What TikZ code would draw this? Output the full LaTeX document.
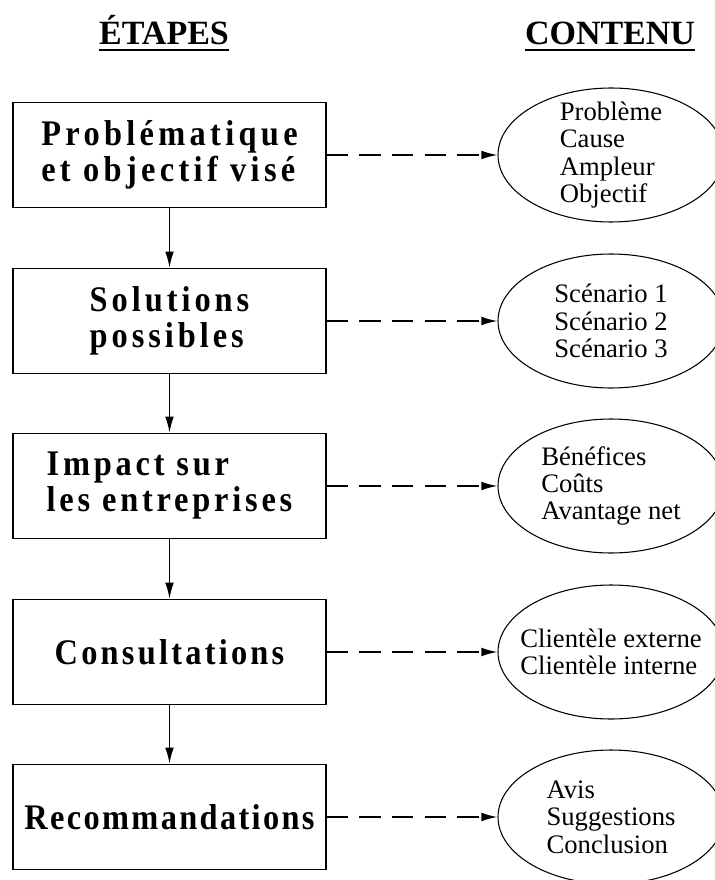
\documentclass[tikz,border=0pt]{standalone}
\usepackage{fontspec}
\setmainfont{Liberation Serif}
\newfontfamily\etapefont[FakeStretch=0.9]{Liberation Serif}
\usetikzlibrary{arrows.meta,shapes.geometric}

\tikzset{
  etape/.style={draw, line width=1.2pt, minimum width=234.75pt, minimum height=78.75pt,
    align=left, font=\etapefont\bfseries\fontsize{27pt}{27pt}\selectfont\addfontfeatures{LetterSpace=#1}},
  etape/.default=11,
  contenu/.style={draw, ellipse, line width=0.8pt, minimum width=169.5pt,
    minimum height=100.5pt, inner sep=0pt},
  liste/.style={align=left, font=\fontsize{20pt}{20.5pt}\selectfont},
  titre/.style={font=\bfseries\fontsize{25.5pt}{27pt}\selectfont, anchor=base, inner sep=0pt},
  fleche/.style={-{Latex[length=12pt,width=6.5pt]}, line width=1.1pt},
  pointille/.style={fleche, line width=1.2pt, dash pattern=on 16pt off 8.5pt}
}

\begin{document}
\begin{tikzpicture}[x=0.75pt,y=-0.75pt]
  \useasboundingbox (0,0) rectangle (714,880);

  % titres des colonnes
  \node[titre] (tetapes) at (164,45) {ÉTAPES};
  \node[titre] (tcontenu) at (610,45) {CONTENU};
  \foreach \t in {tetapes,tcontenu}
    \draw[line width=1.5pt] ([yshift=-3.5pt]\t.base west) -- ([yshift=-3.5pt]\t.base east);

  % etapes et contenu
  \foreach \i/\y/\ls/\txt/\lst in {
      1/155/12/{Problématique\\et objectif visé}/{Problème\\Cause\\Ampleur\\Objectif},
      2/321/11/{Solutions\\possibles}/{Scénario 1\\Scénario 2\\Scénario 3},
      3/486/10.5/{Impact sur\\les entreprises}/{Bénéfices\\Coûts\\Avantage net},
      4/652/9/{Consultations}/{Clientèle externe\\Clientèle interne},
      5/817/6.5/{Recommandations}/{Avis\\Suggestions\\Conclusion}} {
    \node[etape=\ls] (e\i) at (169.5,\y) {\txt};
    \node[contenu] (c\i) at (611,\y) {};
    \node[liste] (l\i) at (c\i) {\lst};
    \draw[pointille] (e\i) -- (c\i);
  }

  \foreach \i/\j in {1/2,2/3,3/4,4/5}
    \draw[fleche] (e\i) -- (e\j);
\end{tikzpicture}
\end{document}
